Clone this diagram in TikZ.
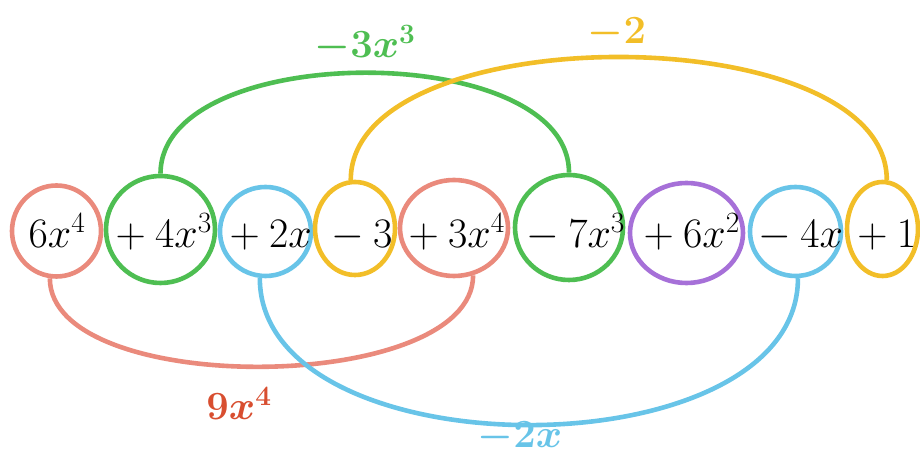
\RequirePackage{fix-cm}
\documentclass[tikz,border=0pt]{standalone}
\usepackage{tikz}
\usetikzlibrary{shapes.geometric}
\usepackage{xcolor}
\definecolor{termpink}{RGB}{234,138,124}
\definecolor{termgreen}{RGB}{78,190,82}
\definecolor{termblue}{RGB}{104,196,232}
\definecolor{termyellow}{RGB}{242,190,40}
\definecolor{termpurple}{RGB}{166,112,216}
\definecolor{sumred}{RGB}{216,78,48}

\begin{document}
\begin{tikzpicture}[x=1pt, y=1pt,
  term/.style={ellipse, draw=#1, line width=\lw, inner sep=0pt},
  link/.style={draw=#1, line width=\lw},
  word/.style={anchor=base, inner sep=0pt, font=\fontsize{42}{50}\selectfont},
  sum/.style={anchor=base, inner sep=0pt, text=#1, font=\fontsize{40}{48}\selectfont\boldmath}]
  % Polynomial terms, grouped by like terms (colour = degree)
  % Coordinates are in pixels of a 920 x 454 frame, origin bottom left
  \def\lw{4.6pt}
  \def\base{206} % baseline of the polynomial
  \useasboundingbox (0,0) rectangle (920,454);

  % Rings round each term
  \node[term=termpink,   minimum width=89,  minimum height=91]  (e1) at (56.5,223)  {};
  \node[term=termgreen,  minimum width=109, minimum height=107] (e2) at (160.5,224.5) {};
  \node[term=termblue,   minimum width=91,  minimum height=89]  (e3) at (265.5,222.5) {};
  \node[term=termyellow, minimum width=80,  minimum height=93]  (e4) at (355,225.5) {};
  \node[term=termpink,   minimum width=108, minimum height=96]  (e5) at (454,226)   {};
  \node[term=termgreen,  minimum width=108, minimum height=105] (e6) at (569,226.5) {};
  \node[term=termpurple, minimum width=113, minimum height=100] (e7) at (686.5,221) {};
  \node[term=termblue,   minimum width=91,  minimum height=89]  (e8) at (795.5,222.5) {};
  \node[term=termyellow, minimum width=71,  minimum height=94]  (e9) at (882.5,225) {};

  % Term texts
  \node[word] (t1) at (57,\base)  {$6x^4$};
  \node[word] (t2) at (159,\base) {${}+4x^3$};
  \node[word] (t3) at (266,\base) {${}+2x$};
  \node[word] (t4) at (357,\base) {${}-3$};
  \node[word] (t5) at (452,\base) {${}+3x^4$};
  \node[word] (t6) at (571,\base) {${}-7x^3$};
  \node[word] (t7) at (687,\base) {${}+6x^2$};
  \node[word] (t8) at (796,\base) {${}-4x$};
  \node[word] (t9) at (882,\base) {${}+1$};

  % Arcs joining like terms (above: x^3 and constants, below: x^4 and x)
  \draw[link=termgreen]  (e2.north) .. controls +(0,134) and +(0,134) .. (e6.north);
  \draw[link=termyellow] (e4.95) .. controls +(0,164) and +(0,164) .. (e9.85);
  \draw[link=termpink]   (e1.262) .. controls +(0,-120) and +(0,-120) .. (e5.292);
  \draw[link=termblue]   (e3.263) .. controls +(0,-196) and +(0,-196) .. (e8.273);

  % Sums of the like terms
  \node[sum=termgreen]  (s3) at (365,396) {$-3x^3$};
  \node[sum=termyellow] (s0) at (617,410) {$-2$};
  \node[sum=sumred]     (s4) at (239,34)  {$9x^4$};
  \node[sum=termblue]   (s1) at (520,6)   {$-2x$};
\end{tikzpicture}
\end{document}
